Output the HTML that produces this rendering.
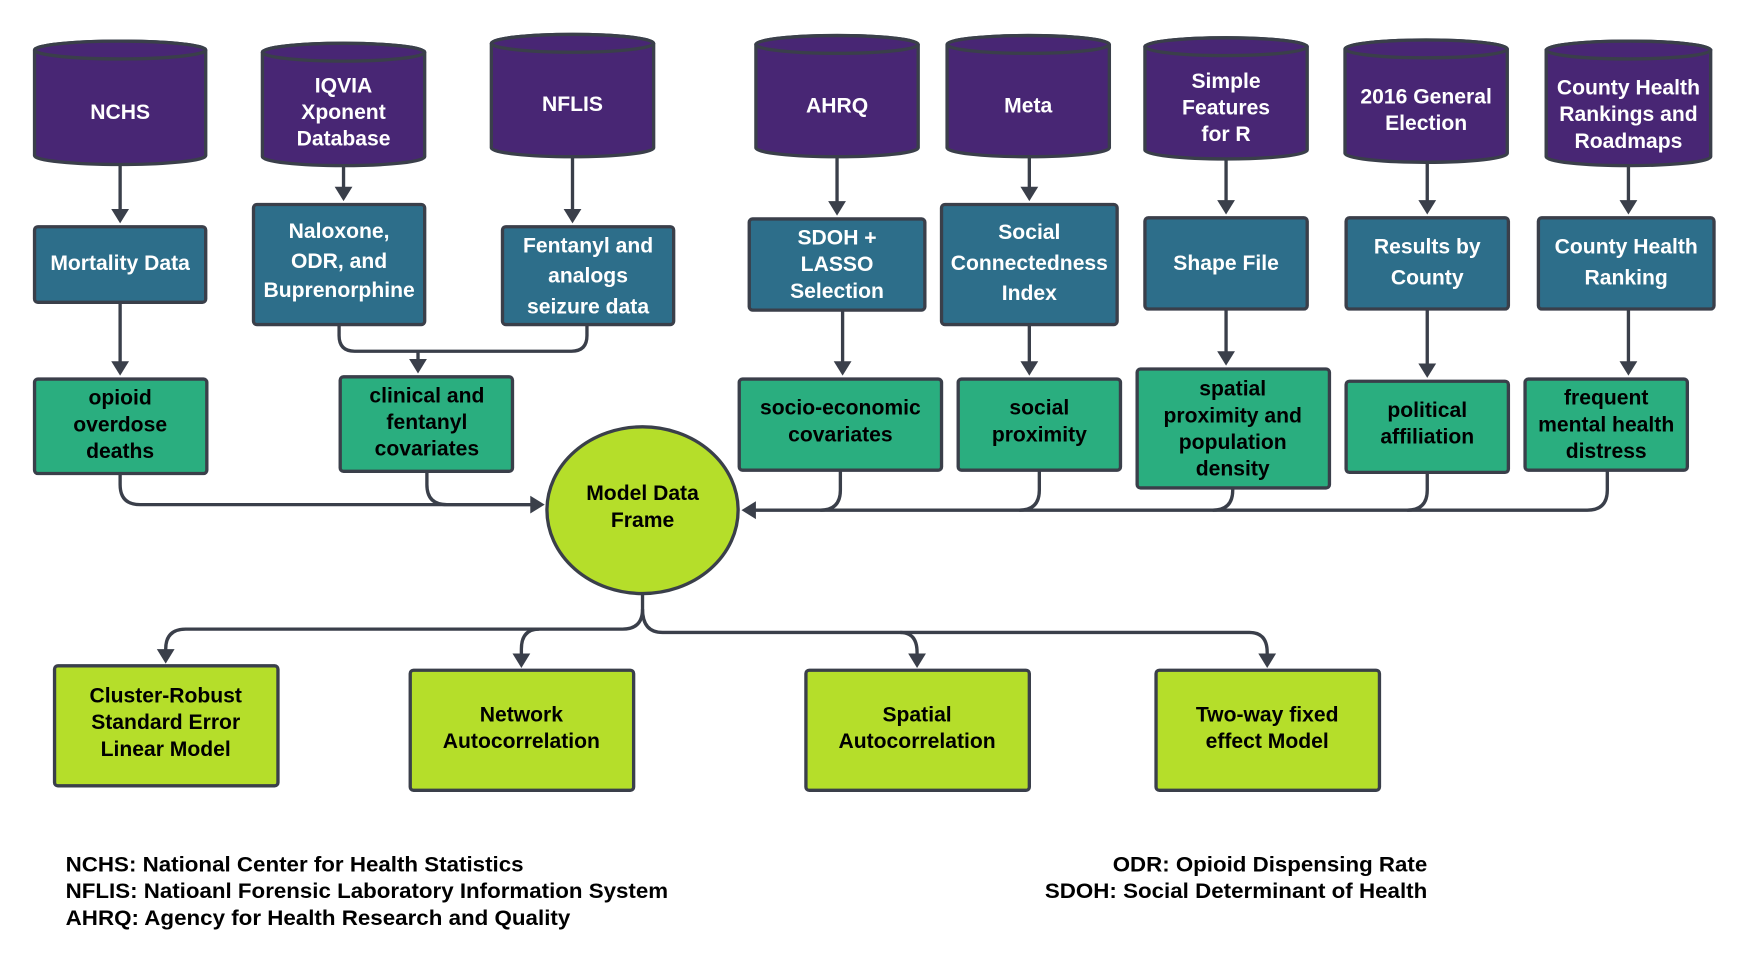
<!DOCTYPE html>
<html><head><meta charset="utf-8"><style>
html,body{margin:0;padding:0;background:#fff}
svg{display:block}
text{font-family:"Liberation Sans",sans-serif;font-weight:bold;font-size:19px;text-anchor:middle}
.w{fill:#fff}.k{fill:#000}
</style></head><body>
<svg width="1743" height="957" viewBox="0 0 1568 861" xmlns="http://www.w3.org/2000/svg">
<g fill="none" stroke="#3a3f4a" stroke-width="3">
<path d="M108,147 V198"/><path d="M309,148 V178"/><path d="M515,140 V198"/>
<path d="M753,140 V191"/><path d="M926,140 V178"/><path d="M1103,142 V190"/>
<path d="M1284,145 V190"/><path d="M1465,148 V190"/>
<path d="M108,272 V335"/>
<path d="M305,292 V302 q0,14 14,14 H514 q14,0 14,-14 V292"/><path d="M376,316 V333"/>
<path d="M758,279 V335"/><path d="M926,292 V335"/><path d="M1103,278 V326"/>
<path d="M1284,278 V337"/><path d="M1465,278 V335"/>
<path d="M108,426 v10 q0,18 18,18 H484"/>
<path d="M384,424 v12 q0,18 18,18 H484"/>
<path d="M1446,423 v18 q0,18 -18,18 H673"/>
<path d="M756,423 v18 q0,18 -18,18"/>
<path d="M935,423 v18 q0,18 -18,18"/>
<path d="M1109,439 v2 q0,18 -18,18"/>
<path d="M1284,425 v16 q0,18 -18,18"/>
<path d="M578,534 v14 q0,18 -18,18 H167 q-18,0 -18,18 v9"/>
<path d="M485,566 q-16,0 -16,18 v13"/>
<path d="M578,548 q0,21 18,21 H1124 q16,0 16,18 v10"/>
<path d="M810,569 q15,0 15,18 v10"/>
</g>
<g fill="#3a3f4a">
<path d="M100,188 h16 l-8,13z"/><path d="M301,168 h16 l-8,13z"/><path d="M507,188 h16 l-8,13z"/>
<path d="M745,181 h16 l-8,13z"/><path d="M918,168 h16 l-8,13z"/><path d="M1095,180 h16 l-8,13z"/>
<path d="M1276,180 h16 l-8,13z"/><path d="M1457,180 h16 l-8,13z"/>
<path d="M100,325 h16 l-8,13z"/><path d="M368,323 h16 l-8,13z"/><path d="M750,325 h16 l-8,13z"/>
<path d="M918,325 h16 l-8,13z"/><path d="M1095,316 h16 l-8,13z"/><path d="M1276,327 h16 l-8,13z"/><path d="M1457,325 h16 l-8,13z"/>
<path d="M477,446 v16 l13,-8z"/><path d="M680,451 v16 l-13,-8z"/>
<path d="M141,584 h16 l-8,13z"/><path d="M461,588 h16 l-8,13z"/><path d="M817,588 h16 l-8,13z"/><path d="M1132,588 h16 l-8,13z"/>
</g>
<g fill="#482674" stroke="#3a3f4a" stroke-width="3">
<path d="M31,45 a77,8 0 0 1 154,0 V140 a77,8 0 0 1 -154,0z"/><ellipse cx="108" cy="45" rx="77" ry="8"/>
<path d="M236,47 a73,8 0 0 1 146,0 V141 a73,8 0 0 1 -146,0z"/><ellipse cx="309" cy="47" rx="73" ry="8"/>
<path d="M442,39 a73,8 0 0 1 146,0 V133 a73,8 0 0 1 -146,0z"/><ellipse cx="515" cy="39" rx="73" ry="8"/>
<path d="M680,40 a73,8 0 0 1 146,0 V133 a73,8 0 0 1 -146,0z"/><ellipse cx="753" cy="40" rx="73" ry="8"/>
<path d="M852,40 a73,8 0 0 1 146,0 V133 a73,8 0 0 1 -146,0z"/><ellipse cx="925" cy="40" rx="73" ry="8"/>
<path d="M1030,42 a73,8 0 0 1 146,0 V135 a73,8 0 0 1 -146,0z"/><ellipse cx="1103" cy="42" rx="73" ry="8"/>
<path d="M1210,44 a73,8 0 0 1 146,0 V138 a73,8 0 0 1 -146,0z"/><ellipse cx="1283" cy="44" rx="73" ry="8"/>
<path d="M1391,45 a74,8 0 0 1 148,0 V141 a74,8 0 0 1 -148,0z"/><ellipse cx="1465" cy="45" rx="74" ry="8"/>
</g>
<text x="108" y="107" class="w">NCHS</text>
<text x="309" y="83" class="w">IQVIA</text><text x="309" y="107" class="w">Xponent</text><text x="309" y="131" class="w">Database</text>
<text x="515" y="100" class="w">NFLIS</text>
<text x="753" y="101" class="w">AHRQ</text>
<text x="925" y="101" class="w">Meta</text>
<text x="1103" y="79" class="w">Simple</text><text x="1103" y="103" class="w">Features</text><text x="1103" y="127" class="w">for R</text>
<text x="1283" y="93" class="w">2016 General</text><text x="1283" y="117" class="w">Election</text>
<text x="1465" y="85" class="w">County Health</text><text x="1465" y="109" class="w">Rankings and</text><text x="1465" y="133" class="w">Roadmaps</text>
<g fill="#2d6e8a" stroke="#3a3f4a" stroke-width="3">
<rect x="31" y="204" width="154" height="68" rx="3"/>
<rect x="228" y="184" width="154" height="108" rx="3"/>
<rect x="452" y="204" width="154" height="88" rx="3"/>
<rect x="674" y="197" width="158" height="82" rx="3"/>
<rect x="847" y="184" width="158" height="108" rx="3"/>
<rect x="1030" y="196" width="146" height="82" rx="3"/>
<rect x="1211" y="196" width="146" height="82" rx="3"/>
<rect x="1384" y="196" width="158" height="82" rx="3"/>
</g>
<text x="108" y="243" class="w">Mortality Data</text>
<text x="305" y="214" class="w">Naloxone,</text><text x="305" y="241" class="w">ODR, and</text><text x="305" y="267" class="w">Buprenorphine</text>
<text x="529" y="227" class="w">Fentanyl and</text><text x="529" y="254" class="w">analogs</text><text x="529" y="282" class="w">seizure data</text>
<text x="753" y="220" class="w">SDOH +</text><text x="753" y="244" class="w">LASSO</text><text x="753" y="268" class="w">Selection</text>
<text x="926" y="215" class="w">Social</text><text x="926" y="243" class="w">Connectedness</text><text x="926" y="270" class="w">Index</text>
<text x="1103" y="243" class="w">Shape File</text>
<text x="1284" y="228" class="w">Results by</text><text x="1284" y="256" class="w">County</text>
<text x="1463" y="228" class="w">County Health</text><text x="1463" y="256" class="w">Ranking</text>
<g fill="#2aae7f" stroke="#3a3f4a" stroke-width="3">
<rect x="31" y="341" width="155" height="85" rx="3"/>
<rect x="306" y="339" width="155" height="85" rx="3"/>
<rect x="665" y="341" width="182" height="82" rx="3"/>
<rect x="862" y="341" width="146" height="82" rx="3"/>
<rect x="1023" y="332" width="173" height="107" rx="3"/>
<rect x="1211" y="343" width="146" height="82" rx="3"/>
<rect x="1372" y="341" width="146" height="82" rx="3"/>
</g>
<text x="108" y="364">opioid</text><text x="108" y="388">overdose</text><text x="108" y="412">deaths</text>
<text x="384" y="362">clinical and</text><text x="384" y="386">fentanyl</text><text x="384" y="410">covariates</text>
<text x="756" y="373">socio-economic</text><text x="756" y="397">covariates</text>
<text x="935" y="373">social</text><text x="935" y="397">proximity</text>
<text x="1109" y="356">spatial</text><text x="1109" y="380">proximity and</text><text x="1109" y="404">population</text><text x="1109" y="428">density</text>
<text x="1284" y="375">political</text><text x="1284" y="399">affiliation</text>
<text x="1445" y="364">frequent</text><text x="1445" y="388">mental health</text><text x="1445" y="412">distress</text>
<ellipse cx="578" cy="459" rx="86" ry="75" fill="#b5de2a" stroke="#3a3f4a" stroke-width="3"/>
<text x="578" y="450">Model Data</text><text x="578" y="474">Frame</text>
<g fill="#b5de2a" stroke="#3a3f4a" stroke-width="3">
<rect x="49" y="599" width="201" height="108" rx="3"/>
<rect x="369" y="603" width="201" height="108" rx="3"/>
<rect x="725" y="603" width="201" height="108" rx="3"/>
<rect x="1040" y="603" width="201" height="108" rx="3"/>
</g>
<text x="149" y="632">Cluster-Robust</text><text x="149" y="656">Standard Error</text><text x="149" y="680">Linear Model</text>
<text x="469" y="649">Network</text><text x="469" y="673">Autocorrelation</text>
<text x="825" y="649">Spatial</text><text x="825" y="673">Autocorrelation</text>
<text x="1140" y="649">Two-way fixed</text><text x="1140" y="673">effect Model</text>
<g style="font-size:18.5px">
<text x="59" y="784" style="text-anchor:start" textLength="412" lengthAdjust="spacingAndGlyphs">NCHS: National Center for Health Statistics</text>
<text x="59" y="808" style="text-anchor:start" textLength="542" lengthAdjust="spacingAndGlyphs">NFLIS: Natioanl Forensic Laboratory Information System</text>
<text x="59" y="832" style="text-anchor:start" textLength="454" lengthAdjust="spacingAndGlyphs">AHRQ: Agency for Health Research and Quality</text>
<text x="1001" y="784" style="text-anchor:start" textLength="283" lengthAdjust="spacingAndGlyphs">ODR: Opioid Dispensing Rate</text>
<text x="940" y="808" style="text-anchor:start" textLength="344" lengthAdjust="spacingAndGlyphs">SDOH: Social Determinant of Health</text>
</g>
</svg>
</body></html>
